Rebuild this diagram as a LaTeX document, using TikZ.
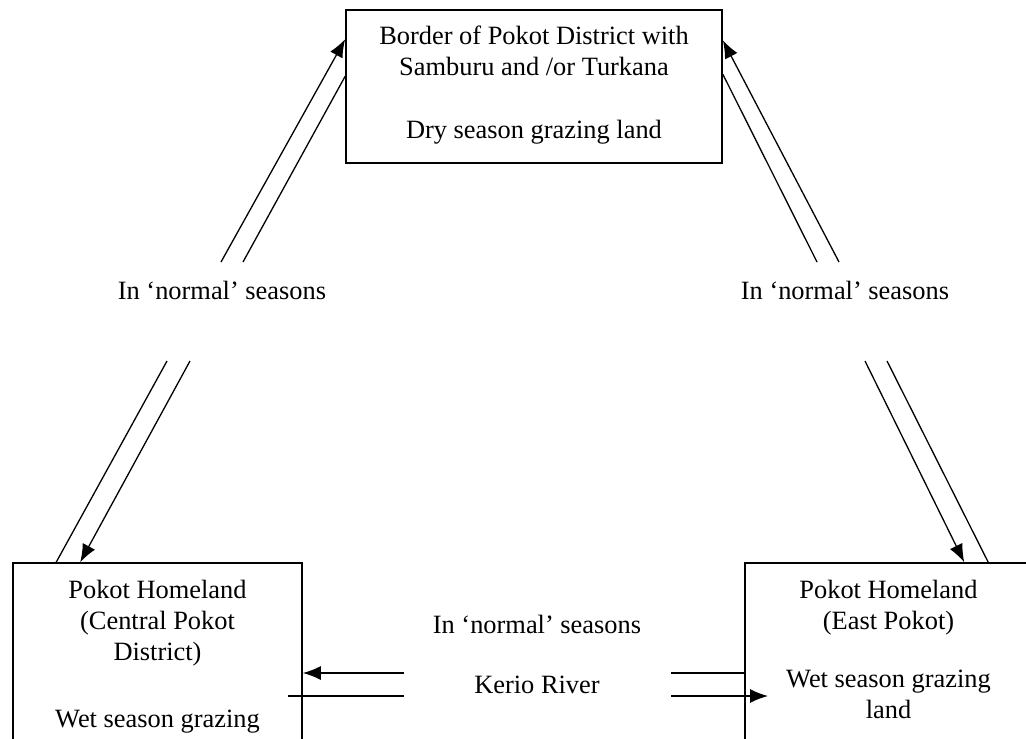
\documentclass[tikz,border=0pt]{standalone}
\usepackage{fontspec}
\setmainfont{Liberation Serif}
\usetikzlibrary{arrows.meta}
\tikzset{
  box/.style={draw, line width=0.8pt, inner sep=0pt},
  txt/.style={align=center, inner sep=0pt, font=\fontsize{13.2}{15.5}\selectfont},
  conn/.style={line width=0.65pt},
}
\begin{document}
\begin{tikzpicture}[x=0.5pt, y=-0.5pt, >={Latex[length=9pt,width=7pt]}]
    \useasboundingbox (0,0) rectangle (1026,738);
    \clip (0,0) rectangle (1026,738);
    % boxes
    \node[box, minimum width=188pt, minimum height=76.5pt] (border) at (534,86.5) {};
    \node[box, minimum width=144.5pt, minimum height=128.5pt] (central) at (157.5,691.5) {};
    \node[box, minimum width=143.5pt, minimum height=128.5pt] (east) at (888.5,691.5) {};
    \node[txt, anchor=north] (bordertxt) at (534,22.3) {\strut Border of Pokot District with\\ Samburu and /or Turkana\\[16pt] Dry season grazing land};
    \node[txt, anchor=north] (centraltxt) at (157.5,576.3) {\strut Pokot Homeland\\ (Central Pokot\\ District)\\[18pt] Wet season grazing};
    \node[txt, anchor=north] (easttxt) at (888.5,576.3) {\strut Pokot Homeland\\ (East Pokot)\\[13.5pt] Wet season grazing\\ land};
    % labels
    \node[txt, anchor=base] (normalleft) at (222,299) {In ‘normal’ seasons};
    \node[txt, anchor=base] (normalright) at (845,299) {In ‘normal’ seasons};
    \node[txt, anchor=base] (normalmid) at (537,633) {In ‘normal’ seasons};
    \node[txt, anchor=base] (kerio) at (537,693) {Kerio River};
    % free ends
    \coordinate (ul1) at (221,262);
    \coordinate (ul2) at (243,262);
    \coordinate (ll1) at (167,361);
    \coordinate (ll2) at (190,361);
    \coordinate (ur1) at (817,262);
    \coordinate (ur2) at (839,262);
    \coordinate (lr1) at (865,361);
    \coordinate (lr2) at (887,361);
    \coordinate (kl1) at (404,673);
    \coordinate (kl2) at (404,696);
    \coordinate (kl3) at (288,696);
    \coordinate (kr1) at (671,673);
    \coordinate (kr2) at (671,696);
    \coordinate (kr3) at (768,696);
    % left side
    \draw[conn, ->] (ul1) -- ([yshift=-15pt]border.north west);
    \draw[conn] (ul2) -- ([yshift=-33.5pt]border.north west);
    \draw[conn] (ll1) -- ([xshift=22pt]central.north west);
    \draw[conn, ->] (ll2) -- ([xshift=34pt]central.north west);
    % right side
    \draw[conn, ->] (ur2) -- ([yshift=-15.5pt]border.north east);
    \draw[conn] (ur1) -- ([yshift=-32.5pt]border.north east);
    \draw[conn, ->] (lr1) -- ([xshift=110pt]east.north west);
    \draw[conn] (lr2) -- ([xshift=122pt]east.north west);
    % Kerio River
    \draw[conn, ->] (kl1) -- (central.east |- kl1);
    \draw[conn] (kl2) -- (kl3);
    \draw[conn] (kr1) -- (east.west |- kr1);
    \draw[conn, ->] (kr2) -- (kr3);
\end{tikzpicture}
\end{document}
